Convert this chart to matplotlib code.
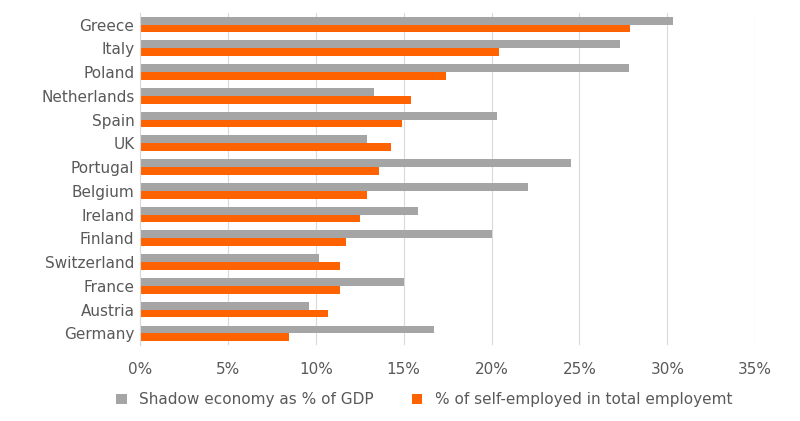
import matplotlib.pyplot as plt
from matplotlib.ticker import PercentFormatter

countries = ["Greece", "Italy", "Poland", "Netherlands", "Spain", "UK", "Portugal",
             "Belgium", "Ireland", "Finland", "Switzerland", "France", "Austria", "Germany"]
shadow = [30.3, 27.3, 27.8, 13.3, 20.3, 12.9, 24.5, 22.1, 15.8, 20.0, 10.2, 15.0, 9.6, 16.7]
self_emp = [27.9, 20.4, 17.4, 15.4, 14.9, 14.3, 13.6, 12.9, 12.5, 11.7, 11.4, 11.4, 10.7, 8.5]

fig = plt.figure(figsize=(8, 4.21), dpi=100)
ax = fig.add_axes([0.175, 0.18, 0.769, 0.79])

n = len(countries)
pos = list(range(n))[::-1]
h = 0.33
ax.barh([p + h / 2 for p in pos], shadow, height=h, color="#a5a5a5",
        label="Shadow economy as % of GDP", zorder=2)
ax.barh([p - h / 2 for p in pos], self_emp, height=h, color="#ff6200",
        label="% of self-employed in total employemt", zorder=2)

ax.set_yticks(pos)
ax.set_yticklabels(countries, fontsize=11, color="#595959")
ax.set_xlim(0, 35)
ax.set_ylim(-0.5, n - 0.5)
ax.set_xticks(range(0, 36, 5))
ax.xaxis.set_major_formatter(PercentFormatter(decimals=0))
ax.tick_params(axis="x", labelsize=11, colors="#595959", length=0, pad=12)
ax.tick_params(axis="y", length=0, pad=4)
ax.grid(axis="x", color="#d9d9d9", linewidth=0.8, zorder=0)
for s in ["top", "right", "bottom"]:
    ax.spines[s].set_visible(False)
ax.spines["left"].set_color("#d9d9d9")

fig.legend(loc="lower center", bbox_to_anchor=(0.53, 0.0), ncol=2, frameon=False,
           fontsize=11, labelcolor="#595959", handlelength=0.7, handleheight=0.7,
           columnspacing=2.5)

fig.savefig("out.png")
